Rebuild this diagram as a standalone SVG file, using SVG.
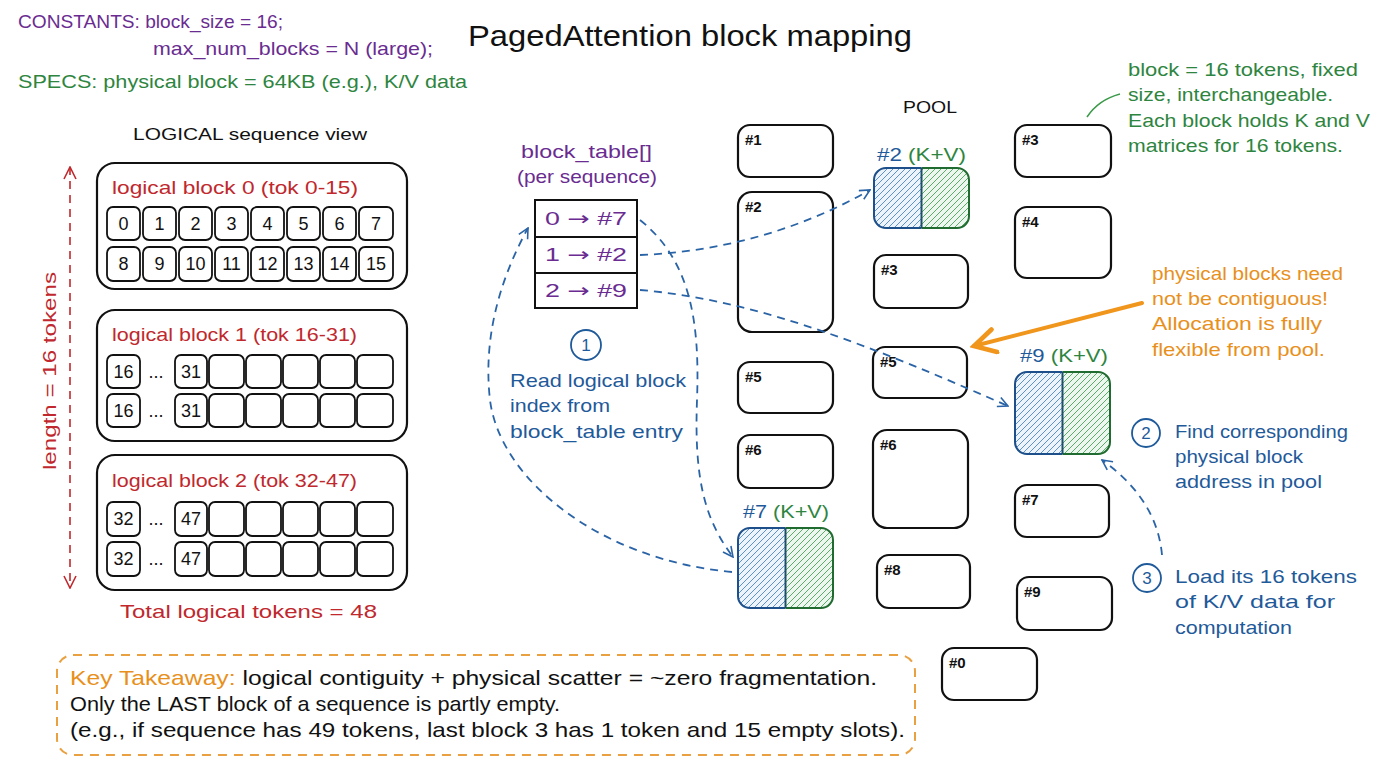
<svg xmlns="http://www.w3.org/2000/svg" width="1376" height="768" viewBox="0 0 1376 768">
<style>
text{font-family:"Liberation Sans","DejaVu Sans",sans-serif;}
.t{font-size:19px;}
.purple{fill:#6a2c91;}
.green{fill:#2e8540;}
.red{fill:#c0282d;}
.blue{fill:#1f5a9a;}
.orange{fill:#e8901c;}
.blk{fill:#fff;stroke:#111;stroke-width:2.2;}
.cell{fill:#fff;stroke:#111;stroke-width:1.8;}
.num{font-size:18px;fill:#111;text-anchor:middle;}
.pl{font-size:15px;fill:#111;font-weight:bold;}
.dash{fill:none;stroke:#2a64a6;stroke-width:1.8;stroke-dasharray:8 6;}
.circ{fill:#fff;stroke:#1f5a9a;stroke-width:1.8;}
.arr{font-family:"DejaVu Sans",sans-serif;}
</style>
<defs>
<pattern id="hb" patternUnits="userSpaceOnUse" width="6" height="6">
<rect width="6" height="6" fill="#eef4fb"/>
<path d="M-1,1 L1,-1 M0,6 L6,0 M5,7 L7,5" stroke="#4a86c8" stroke-width="0.9"/>
</pattern>
<pattern id="hg" patternUnits="userSpaceOnUse" width="6" height="6">
<rect width="6" height="6" fill="#eef7ef"/>
<path d="M-1,1 L1,-1 M0,6 L6,0 M5,7 L7,5" stroke="#4aa55a" stroke-width="0.9"/>
</pattern>
<marker id="ab" viewBox="0 0 12 12" refX="11" refY="6" markerWidth="12" markerHeight="12" markerUnits="userSpaceOnUse" orient="auto">
<path d="M1,1 L11,6 L1,11" fill="none" stroke="#2a64a6" stroke-width="1.6"/>
</marker>
<marker id="ar" viewBox="0 0 14 14" refX="13" refY="7" markerWidth="14" markerHeight="14" markerUnits="userSpaceOnUse" orient="auto-start-reverse">
<path d="M1,1 L13,7 L1,13" fill="none" stroke="#c0282d" stroke-width="1.6"/>
</marker>
<marker id="ao" viewBox="0 0 12 12" refX="10" refY="6" markerWidth="7" markerHeight="7" orient="auto">
<path d="M1,1 L10,6 L1,11" fill="none" stroke="#f0961c" stroke-width="2" stroke-linecap="round"/>
</marker>
<clipPath id="c2"><rect x="874" y="168" width="95" height="60" rx="12"/></clipPath>
<clipPath id="c9"><rect x="1015" y="372" width="95" height="82" rx="12"/></clipPath>
<clipPath id="c7"><rect x="738" y="528" width="95" height="80" rx="12"/></clipPath>
</defs>
<rect width="1376" height="768" fill="#fff"/>

<g id="header">
<text x="18" y="28" class="t purple" textLength="265" lengthAdjust="spacingAndGlyphs">CONSTANTS: block_size = 16;</text>
<text x="153" y="55" class="t purple" textLength="280" lengthAdjust="spacingAndGlyphs">max_num_blocks = N (large);</text>
<text x="18" y="88" class="t green" textLength="449" lengthAdjust="spacingAndGlyphs">SPECS: physical block = 64KB (e.g.), K/V data</text>
<text x="468" y="46" font-size="29" fill="#111" textLength="444" lengthAdjust="spacingAndGlyphs">PagedAttention block mapping</text>
</g>

<g id="logical-view">
<text x="133" y="140" font-size="17" fill="#111" textLength="234" lengthAdjust="spacingAndGlyphs">LOGICAL sequence view</text>
<line x1="70" y1="167" x2="70" y2="588" stroke="#c0282d" stroke-width="1.6" stroke-dasharray="8 6" marker-start="url(#ar)" marker-end="url(#ar)"/>
<text transform="translate(56,371) rotate(-90)" font-size="19" class="red" text-anchor="middle" textLength="198" lengthAdjust="spacingAndGlyphs">length = 16 tokens</text>
</g>

<g id="logical-block-0">
<rect x="97" y="163" width="310" height="126" rx="18" class="blk"/>
<text x="112" y="194" class="t red" textLength="246" lengthAdjust="spacingAndGlyphs">logical block 0 (tok 0-15)</text>
<rect x="107" y="207" width="33" height="33" rx="6" class="cell"/><text x="123.5" y="230" class="num">0</text>
<rect x="143" y="207" width="33" height="33" rx="6" class="cell"/><text x="159.5" y="230" class="num">1</text>
<rect x="179" y="207" width="33" height="33" rx="6" class="cell"/><text x="195.5" y="230" class="num">2</text>
<rect x="215" y="207" width="33" height="33" rx="6" class="cell"/><text x="231.5" y="230" class="num">3</text>
<rect x="251" y="207" width="33" height="33" rx="6" class="cell"/><text x="267.5" y="230" class="num">4</text>
<rect x="287" y="207" width="33" height="33" rx="6" class="cell"/><text x="303.5" y="230" class="num">5</text>
<rect x="323" y="207" width="33" height="33" rx="6" class="cell"/><text x="339.5" y="230" class="num">6</text>
<rect x="359" y="207" width="34" height="33" rx="6" class="cell"/><text x="376" y="230" class="num">7</text>
<rect x="107" y="247" width="33" height="34" rx="6" class="cell"/><text x="123.5" y="270" class="num">8</text>
<rect x="143" y="247" width="33" height="34" rx="6" class="cell"/><text x="159.5" y="270" class="num">9</text>
<rect x="179" y="247" width="33" height="34" rx="6" class="cell"/><text x="195.5" y="270" class="num">10</text>
<rect x="215" y="247" width="33" height="34" rx="6" class="cell"/><text x="231.5" y="270" class="num">11</text>
<rect x="251" y="247" width="33" height="34" rx="6" class="cell"/><text x="267.5" y="270" class="num">12</text>
<rect x="287" y="247" width="33" height="34" rx="6" class="cell"/><text x="303.5" y="270" class="num">13</text>
<rect x="323" y="247" width="33" height="34" rx="6" class="cell"/><text x="339.5" y="270" class="num">14</text>
<rect x="359" y="247" width="34" height="34" rx="6" class="cell"/><text x="376" y="270" class="num">15</text>
</g>

<g id="logical-block-1">
<rect x="97" y="310" width="310" height="131" rx="18" class="blk"/>
<text x="112" y="341" class="t red" textLength="245" lengthAdjust="spacingAndGlyphs">logical block 1 (tok 16-31)</text>
<rect x="107" y="355" width="33" height="33" rx="6" class="cell"/><text x="123.5" y="378" class="num">16</text>
<text x="156" y="378" class="num">...</text>
<rect x="175" y="355" width="32" height="33" rx="6" class="cell"/><text x="191" y="378" class="num">31</text>
<rect x="209" y="355" width="35" height="33" rx="6" class="cell"/>
<rect x="246" y="355" width="35" height="33" rx="6" class="cell"/>
<rect x="283" y="355" width="35" height="33" rx="6" class="cell"/>
<rect x="320" y="355" width="35" height="33" rx="6" class="cell"/>
<rect x="357" y="355" width="36" height="33" rx="6" class="cell"/>
<rect x="107" y="394" width="33" height="33" rx="6" class="cell"/><text x="123.5" y="417" class="num">16</text>
<text x="156" y="417" class="num">...</text>
<rect x="175" y="394" width="32" height="33" rx="6" class="cell"/><text x="191" y="417" class="num">31</text>
<rect x="209" y="394" width="35" height="33" rx="6" class="cell"/>
<rect x="246" y="394" width="35" height="33" rx="6" class="cell"/>
<rect x="283" y="394" width="35" height="33" rx="6" class="cell"/>
<rect x="320" y="394" width="35" height="33" rx="6" class="cell"/>
<rect x="357" y="394" width="36" height="33" rx="6" class="cell"/>
</g>

<g id="logical-block-2">
<rect x="97" y="455" width="310" height="135" rx="18" class="blk"/>
<text x="112" y="487" class="t red" textLength="245" lengthAdjust="spacingAndGlyphs">logical block 2 (tok 32-47)</text>
<rect x="107" y="502" width="33" height="34" rx="6" class="cell"/><text x="123.5" y="525" class="num">32</text>
<text x="156" y="525" class="num">...</text>
<rect x="175" y="502" width="32" height="34" rx="6" class="cell"/><text x="191" y="525" class="num">47</text>
<rect x="209" y="502" width="35" height="34" rx="6" class="cell"/>
<rect x="246" y="502" width="35" height="34" rx="6" class="cell"/>
<rect x="283" y="502" width="35" height="34" rx="6" class="cell"/>
<rect x="320" y="502" width="35" height="34" rx="6" class="cell"/>
<rect x="357" y="502" width="36" height="34" rx="6" class="cell"/>
<rect x="107" y="542" width="33" height="34" rx="6" class="cell"/><text x="123.5" y="565" class="num">32</text>
<text x="156" y="565" class="num">...</text>
<rect x="175" y="542" width="32" height="34" rx="6" class="cell"/><text x="191" y="565" class="num">47</text>
<rect x="209" y="542" width="35" height="34" rx="6" class="cell"/>
<rect x="246" y="542" width="35" height="34" rx="6" class="cell"/>
<rect x="283" y="542" width="35" height="34" rx="6" class="cell"/>
<rect x="320" y="542" width="35" height="34" rx="6" class="cell"/>
<rect x="357" y="542" width="36" height="34" rx="6" class="cell"/>
<text x="120" y="618" class="t red" textLength="257" lengthAdjust="spacingAndGlyphs">Total logical tokens = 48</text>
</g>

<g id="block-table">
<text x="521" y="158" class="t purple" textLength="131" lengthAdjust="spacingAndGlyphs">block_table[]</text>
<text x="517" y="183" class="t purple" textLength="140" lengthAdjust="spacingAndGlyphs">(per sequence)</text>
<rect x="535" y="200" width="102" height="108" fill="#fff" stroke="#111" stroke-width="2"/>
<line x1="535" y1="237" x2="637" y2="237" stroke="#111" stroke-width="2"/>
<line x1="535" y1="273" x2="637" y2="273" stroke="#111" stroke-width="2"/>
<text x="545" y="225" class="t purple" textLength="82" lengthAdjust="spacingAndGlyphs">0 <tspan class="arr">→</tspan> #7</text>
<text x="545" y="261" class="t purple" textLength="82" lengthAdjust="spacingAndGlyphs">1 <tspan class="arr">→</tspan> #2</text>
<text x="545" y="297" class="t purple" textLength="82" lengthAdjust="spacingAndGlyphs">2 <tspan class="arr">→</tspan> #9</text>
</g>

<g id="step-1">
<circle cx="586" cy="345" r="15" class="circ"/>
<text x="586" y="351" font-size="17" class="blue" text-anchor="middle">1</text>
<text x="510" y="387" class="t blue" textLength="176" lengthAdjust="spacingAndGlyphs">Read logical block</text>
<text x="510" y="412" class="t blue" textLength="100" lengthAdjust="spacingAndGlyphs">index from</text>
<text x="510" y="438" class="t blue" textLength="173" lengthAdjust="spacingAndGlyphs">block_table entry</text>
</g>

<g id="pool">
<text x="903" y="113" font-size="17" fill="#111" textLength="54" lengthAdjust="spacingAndGlyphs">POOL</text>
</g>
<g id="pool-c1-1"><rect x="738" y="125" width="95" height="52" rx="12" class="blk"/><text x="745" y="145" class="pl">#1</text></g>
<g id="pool-c1-2"><rect x="738" y="192" width="95" height="140" rx="14" class="blk"/><text x="745" y="212" class="pl">#2</text></g>
<g id="pool-c1-5"><rect x="738" y="362" width="95" height="51" rx="12" class="blk"/><text x="745" y="382" class="pl">#5</text></g>
<g id="pool-c1-6"><rect x="738" y="435" width="95" height="53" rx="12" class="blk"/><text x="745" y="455" class="pl">#6</text></g>
<g id="pool-c2-3"><rect x="874" y="255" width="94" height="53" rx="12" class="blk"/><text x="881" y="275" class="pl">#3</text></g>
<g id="pool-c2-5"><rect x="873" y="347" width="94" height="51" rx="12" class="blk"/><text x="880" y="367" class="pl">#5</text></g>
<g id="pool-c2-6"><rect x="873" y="430" width="95" height="98" rx="14" class="blk"/><text x="880" y="450" class="pl">#6</text></g>
<g id="pool-c2-8"><rect x="877" y="555" width="93" height="53" rx="12" class="blk"/><text x="884" y="575" class="pl">#8</text></g>
<g id="pool-c3-3"><rect x="1015" y="125" width="96" height="52" rx="12" class="blk"/><text x="1022" y="145" class="pl">#3</text></g>
<g id="pool-c3-4"><rect x="1015" y="207" width="96" height="71" rx="12" class="blk"/><text x="1022" y="227" class="pl">#4</text></g>
<g id="pool-c3-7"><rect x="1015" y="485" width="94" height="52" rx="12" class="blk"/><text x="1022" y="505" class="pl">#7</text></g>
<g id="pool-c3-9"><rect x="1017" y="577" width="95" height="53" rx="12" class="blk"/><text x="1024" y="597" class="pl">#9</text></g>
<g id="pool-0"><rect x="942" y="648" width="95" height="52" rx="12" class="blk"/><text x="949" y="668" class="pl">#0</text></g>

<g id="kv-2">
<text x="877" y="161" font-size="18" class="blue" textLength="89" lengthAdjust="spacingAndGlyphs">#2 <tspan class="green">(K+V)</tspan></text>
<g clip-path="url(#c2)">
<rect x="874" y="168" width="47.5" height="60" fill="url(#hb)"/>
<rect x="921.5" y="168" width="47.5" height="60" fill="url(#hg)"/>
</g>
<path d="M921.5,168 H886 A12,12 0 0 0 874,180 V216 A12,12 0 0 0 886,228 H921.5" fill="none" stroke="#1d4f8a" stroke-width="2"/>
<path d="M921.5,168 H957 A12,12 0 0 1 969,180 V216 A12,12 0 0 1 957,228 H921.5" fill="none" stroke="#1f6b30" stroke-width="2"/>
<line x1="921.5" y1="168" x2="921.5" y2="228" stroke="#1d4f6a" stroke-width="2"/>
</g>

<g id="kv-9">
<text x="1020" y="362" font-size="18" class="blue" textLength="88" lengthAdjust="spacingAndGlyphs">#9 <tspan class="green">(K+V)</tspan></text>
<g clip-path="url(#c9)">
<rect x="1015" y="372" width="47.5" height="82" fill="url(#hb)"/>
<rect x="1062.5" y="372" width="47.5" height="82" fill="url(#hg)"/>
</g>
<path d="M1062.5,372 H1027 A12,12 0 0 0 1015,384 V442 A12,12 0 0 0 1027,454 H1062.5" fill="none" stroke="#1d4f8a" stroke-width="2"/>
<path d="M1062.5,372 H1098 A12,12 0 0 1 1110,384 V442 A12,12 0 0 1 1098,454 H1062.5" fill="none" stroke="#1f6b30" stroke-width="2"/>
<line x1="1062.5" y1="372" x2="1062.5" y2="454" stroke="#1d4f6a" stroke-width="2"/>
</g>

<g id="kv-7">
<text x="743" y="518" font-size="18" class="blue" textLength="86" lengthAdjust="spacingAndGlyphs">#7 <tspan class="green">(K+V)</tspan></text>
<g clip-path="url(#c7)">
<rect x="738" y="528" width="47.5" height="80" fill="url(#hb)"/>
<rect x="785.5" y="528" width="47.5" height="80" fill="url(#hg)"/>
</g>
<path d="M785.5,528 H750 A12,12 0 0 0 738,540 V596 A12,12 0 0 0 750,608 H785.5" fill="none" stroke="#1d4f8a" stroke-width="2"/>
<path d="M785.5,528 H821 A12,12 0 0 1 833,540 V596 A12,12 0 0 1 821,608 H785.5" fill="none" stroke="#1f6b30" stroke-width="2"/>
<line x1="785.5" y1="528" x2="785.5" y2="608" stroke="#1d4f6a" stroke-width="2"/>
</g>

<g id="connectors">
<path d="M640,220 C690,260 700,320 697,400 C694,480 705,520 733,557" class="dash" marker-end="url(#ab)"/>
<path d="M732,572 C600,560 500,480 490,400 C482,330 505,270 528,228" class="dash" marker-end="url(#ab)"/>
<path d="M640,255 C720,252 800,230 870,190" class="dash" marker-end="url(#ab)"/>
<path d="M640,290 C760,300 880,350 1008,406" class="dash" marker-end="url(#ab)"/>
<path d="M1162,555 C1158,510 1130,480 1102,460" class="dash" marker-end="url(#ab)"/>
<line x1="1142" y1="303" x2="974" y2="346" stroke="#f0961c" stroke-width="4" stroke-linecap="round" marker-end="url(#ao)"/>
<path d="M1087,117 C1095,105 1105,98 1120,94" fill="none" stroke="#3c9a4a" stroke-width="1.5"/>
</g>

<g id="note-block">
<text x="1128" y="76" class="t green" textLength="230" lengthAdjust="spacingAndGlyphs">block = 16 tokens, fixed</text>
<text x="1128" y="101" class="t green" textLength="205" lengthAdjust="spacingAndGlyphs">size, interchangeable.</text>
<text x="1128" y="127" class="t green" textLength="242" lengthAdjust="spacingAndGlyphs">Each block holds K and V</text>
<text x="1128" y="152" class="t green" textLength="215" lengthAdjust="spacingAndGlyphs">matrices for 16 tokens.</text>
</g>

<g id="note-contiguous">
<text x="1152" y="280" class="t orange" textLength="191" lengthAdjust="spacingAndGlyphs">physical blocks need</text>
<text x="1152" y="305" class="t orange" textLength="176" lengthAdjust="spacingAndGlyphs">not be contiguous!</text>
<text x="1152" y="330" class="t orange" textLength="170" lengthAdjust="spacingAndGlyphs">Allocation is fully</text>
<text x="1152" y="356" class="t orange" textLength="173" lengthAdjust="spacingAndGlyphs">flexible from pool.</text>
</g>

<g id="step-2">
<circle cx="1146" cy="433" r="14" class="circ"/>
<text x="1146" y="439" font-size="17" class="blue" text-anchor="middle">2</text>
<text x="1175" y="438" class="t blue" textLength="173" lengthAdjust="spacingAndGlyphs">Find corresponding</text>
<text x="1175" y="463" class="t blue" textLength="128" lengthAdjust="spacingAndGlyphs">physical block</text>
<text x="1175" y="488" class="t blue" textLength="147" lengthAdjust="spacingAndGlyphs">address in pool</text>
</g>

<g id="step-3">
<circle cx="1147" cy="578" r="14" class="circ"/>
<text x="1147" y="584" font-size="17" class="blue" text-anchor="middle">3</text>
<text x="1175" y="583" class="t blue" textLength="182" lengthAdjust="spacingAndGlyphs">Load its 16 tokens</text>
<text x="1175" y="608" class="t blue" textLength="160" lengthAdjust="spacingAndGlyphs">of K/V data for</text>
<text x="1175" y="634" class="t blue" textLength="117" lengthAdjust="spacingAndGlyphs">computation</text>
</g>

<g id="takeaway">
<rect x="57" y="655" width="858" height="100" rx="16" fill="none" stroke="#e8a040" stroke-width="2" stroke-dasharray="9 7"/>
<text x="70" y="685" font-size="21" fill="#111" textLength="807" lengthAdjust="spacingAndGlyphs"><tspan fill="#e8901c">Key Takeaway:</tspan> logical contiguity + physical scatter = ~zero fragmentation.</text>
<text x="70" y="711" font-size="21" fill="#111" textLength="490" lengthAdjust="spacingAndGlyphs">Only the LAST block of a sequence is partly empty.</text>
<text x="70" y="737" font-size="21" fill="#111" textLength="835" lengthAdjust="spacingAndGlyphs">(e.g., if sequence has 49 tokens, last block 3 has 1 token and 15 empty slots).</text>
</g>
</svg>
